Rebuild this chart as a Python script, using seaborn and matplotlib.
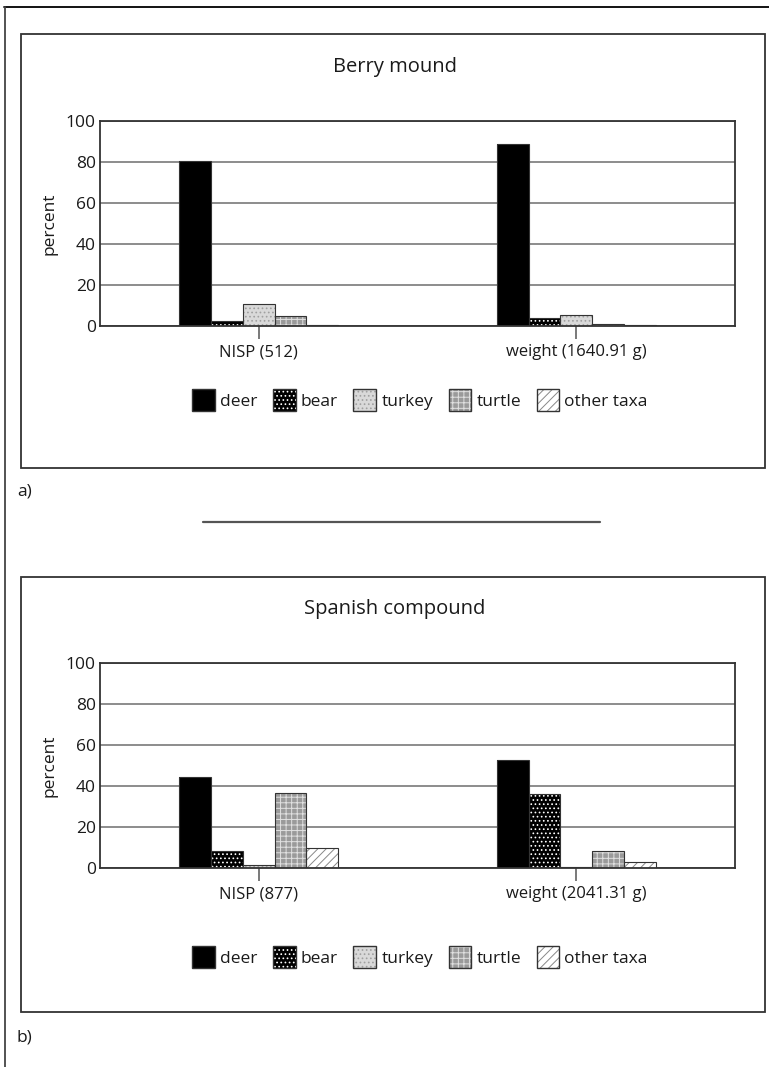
import pandas as pd
import matplotlib
matplotlib.use("Agg")
import matplotlib.pyplot as plt
import seaborn as sns
from matplotlib.patches import Rectangle, Patch
from matplotlib.lines import Line2D
from matplotlib.legend_handler import HandlerTuple

# values (percent)
taxa = ["deer", "bear", "turkey", "turtle", "other taxa"]

berry_groups = ["NISP (512)", "weight (1640.91 g)"]
berry_nisp = [80.5, 2.2, 10.8, 4.9, 0.5]
berry_weight = [88.6, 3.7, 5.4, 1.0, 0.3]

spanish_groups = ["NISP (877)", "weight (2041.31 g)"]
spanish_nisp = [44.5, 8.5, 1.4, 36.8, 9.6]
spanish_weight = [52.6, 36.2, 0.3, 8.3, 2.9]

yticks = [0, 20, 40, 60, 80, 100]

# fill style per taxon: face colour, hatch, hatch colour
fills = {
    "deer": ("black", None, "black"),
    "bear": ("black", "....", "white"),
    "turkey": ("#d9d9d9", "....", "#a0a0a0"),
    "turtle": ("#9a9a9a", "+++", "#e0e0e0"),
    "other taxa": ("white", "////", "#888888"),
}

sns.set_style("white")
plt.rcParams["font.family"] = ["Open Sans", "DejaVu Sans"]
plt.rcParams["hatch.linewidth"] = 0.7
TXT = "#1a1a1a"


def long_frame(groups, nisp, weight):
    rows = []
    for g, vals in zip(groups, [nisp, weight]):
        for t, v in zip(taxa, vals):
            rows.append({"group": g, "taxon": t, "percent": v})
    return pd.DataFrame(rows)


def draw_panel(ax, df, groups):
    sns.barplot(data=df, x="group", y="percent", hue="taxon", order=groups,
                hue_order=taxa, palette=["white"] * len(taxa), width=0.5,
                gap=0, legend=False, ax=ax, errorbar=None, saturation=1)
    for taxon, cont in zip(taxa, ax.containers):
        face, hatch, hcol = fills[taxon]
        for p in cont:
            p.set_facecolor(face)
            p.set_hatch(hatch)
            p.set_edgecolor(hcol)
            p.set_linewidth(0)
            ax.add_patch(Rectangle(p.get_xy(), p.get_width(), p.get_height(),
                                   fill=False, edgecolor="#333333", lw=0.8, zorder=3))
    ax.set_xlim(-0.5, 1.5)
    ax.set_ylim(0, 100)
    ax.set_yticks(yticks)
    ax.yaxis.grid(True, color="#8c8c8c", lw=1.4)
    ax.set_axisbelow(True)
    for s in ax.spines.values():
        s.set_visible(True)
        s.set_color("#333333")
        s.set_linewidth(1.3)
    ax.tick_params(axis="y", length=0, pad=3, labelsize=12.5, labelcolor=TXT)
    ax.tick_params(axis="x", length=9, width=1.1, color="#555555", direction="out",
                   pad=4, labelsize=12, labelcolor=TXT, bottom=True)
    ax.set_xlabel("")
    ax.set_ylabel("percent", fontsize=12.5, color=TXT, labelpad=6)


def legend_handles():
    handles = []
    for t in taxa:
        face, hatch, hcol = fills[t]
        h1 = Patch(facecolor=face, hatch=hatch, edgecolor=hcol, lw=0)
        h2 = Patch(fill=False, edgecolor="#333333", lw=1.0)
        handles.append((h1, h2))
    return handles


fig = plt.figure(figsize=(7.69, 10.67), dpi=100)

W, H = 769.0, 1067.0


def fx(x):
    return x / W


def fy(y):
    return 1 - y / H


# outer frame (top and left only)
fig.add_artist(Line2D([fx(4), 1.0], [fy(7), fy(7)], color="black", lw=1.3))
fig.add_artist(Line2D([fx(5), fx(5)], [fy(7), 0.0], color="#444444", lw=1.3))

# panel boxes
for top, bot in [(34, 468), (577, 1012)]:
    fig.add_artist(Rectangle((fx(21), fy(bot)), fx(765) - fx(21), fy(top) - fy(bot),
                             fill=False, edgecolor="#333333", lw=1.3,
                             transform=fig.transFigure))

# separator line
fig.add_artist(Line2D([fx(203), fx(600)], [fy(522), fy(522)], color="#555555", lw=1.6))

panels = [
    ("Berry mound", berry_groups, berry_nisp, berry_weight, 121, 326, 67, 400, "a)", 491),
    ("Spanish compound", spanish_groups, spanish_nisp, spanish_weight, 663, 868, 609, 957, "b)", 1038),
]

for title, groups, nisp, weight, ytop, ybot, ytitle, yleg, tag, ytag in panels:
    ax = fig.add_axes([fx(100), fy(ybot), fx(735) - fx(100), fy(ytop) - fy(ybot)])
    draw_panel(ax, long_frame(groups, nisp, weight), groups)
    fig.text(fx(395), fy(ytitle), title, ha="center", va="center", fontsize=14.5, color=TXT)
    fig.legend(legend_handles(), taxa, loc="center", bbox_to_anchor=(fx(420), fy(yleg)),
               ncol=5, frameon=False, fontsize=12.5, handlelength=1.3, handleheight=1.5,
               handletextpad=0.3, columnspacing=0.9, labelcolor=TXT,
               handler_map={tuple: HandlerTuple(ndivide=1, pad=0)})
    fig.text(fx(17), fy(ytag), tag, ha="left", va="center", fontsize=12.5, color=TXT)

fig.savefig("out.png", dpi=100)
